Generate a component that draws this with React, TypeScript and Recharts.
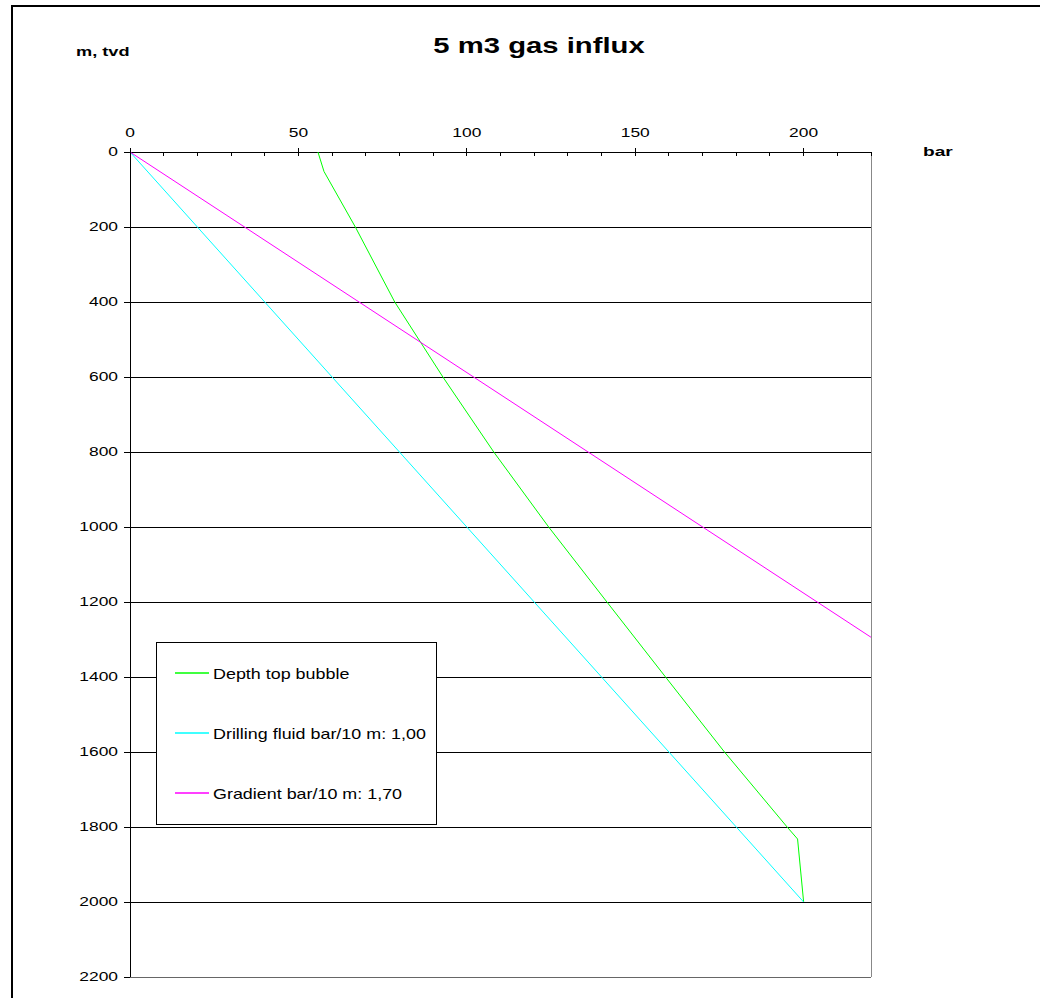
import { CartesianGrid, Legend, ReferenceLine, Scatter, ScatterChart, XAxis, YAxis } from 'recharts';

// pressure (bar) against true vertical depth (m)
const bubbleBar = [55.8, 57.6, 66.9, 78.6, 92.9, 108.0, 124.3, 141.6, 159.0, 176.5, 195.1, 198.2, 200];
const bubbleDepth = [0, 52, 200, 400, 600, 800, 1000, 1200, 1400, 1600, 1800, 1832, 2000];
const fluidBar = [0, 200];
const fluidDepth = [0, 2000];
const gradientBar = [0, 220];
const gradientDepth = [0, 1294];

const barTicks = [0, 10, 20, 30, 40, 50, 60, 70, 80, 90, 100, 110, 120, 130, 140, 150, 160, 170, 180, 190, 200, 210, 220];
const barLabels = [0, 50, 100, 150, 200];
const depthTicks = [0, 200, 400, 600, 800, 1000, 1200, 1400, 1600, 1800, 2000, 2200];

const FONT = '"Liberation Sans", Arial, sans-serif';
const STRETCH = 1.45;

const toPoints = (bars: number[], depths: number[]) =>
  bars.map((b, i) => ({ bar: b, depth: depths[i] }));

const series = [
  { name: 'Depth top bubble', color: '#00ff00', data: toPoints(bubbleBar, bubbleDepth) },
  { name: 'Drilling fluid bar/10 m:  1,00', color: '#00ffff', data: toPoints(fluidBar, fluidDepth) },
  { name: 'Gradient bar/10 m:  1,70', color: '#ff00ff', data: toPoints(gradientBar, gradientDepth) },
];

const noShape = () => <g />;

function BarTick(props: any) {
  const { x, y, payload } = props;
  const major = barLabels.includes(payload.value);
  return (
    <g>
      <line x1={x} x2={x} y1={major ? y - 4 : y} y2={y + 4} stroke="#000" shapeRendering="crispEdges" />
      {major && (
        <text
          transform={`translate(${x},${y - 15}) scale(${STRETCH},1)`}
          textAnchor="middle"
          fontSize={12}
          fontFamily={FONT}
          fill="#000"
        >
          {payload.value}
        </text>
      )}
    </g>
  );
}

function DepthTick(props: any) {
  const { x, y, payload } = props;
  return (
    <text
      transform={`translate(${x},${y + 4}) scale(${STRETCH},1)`}
      textAnchor="end"
      fontSize={12}
      fontFamily={FONT}
      fill="#000"
    >
      {payload.value}
    </text>
  );
}

function LegendBox() {
  return (
    <svg width={281} height={183} style={{ display: 'block' }}>
      <rect x={0.5} y={0.5} width={280} height={182} fill="#fff" stroke="#000" />
      {series.map((s, i) => (
        <g key={s.name}>
          <line x1={19} x2={53} y1={31 + i * 60} y2={31 + i * 60} stroke={s.color} strokeWidth={1.3} />
          <text
            transform={`translate(57,${36.5 + i * 60}) scale(1.28,1)`}
            fontSize={14}
            fontFamily={FONT}
            fill="#000"
          >
            {s.name}
          </text>
        </g>
      ))}
    </svg>
  );
}

export default function App() {
  return (
    <div style={{ position: 'relative', width: 1040, height: 998, overflow: 'hidden', background: '#fff' }}>
      <style>{'body{margin:0}'}</style>
      <div
        style={{
          position: 'absolute',
          left: 11,
          top: 5,
          width: 1100,
          height: 1100,
          border: '2px solid #000',
        }}
      />
      <div style={{ position: 'absolute', left: 0, top: 0 }}>
        <ScatterChart width={1040} height={998} margin={{ top: 122, right: 169, bottom: 21, left: 70 }}>
          <CartesianGrid vertical={false} stroke="#000" shapeRendering="crispEdges" />
          <XAxis
            type="number"
            dataKey="bar"
            orientation="top"
            domain={[0, 220]}
            ticks={barTicks}
            interval={0}
            height={30}
            tickSize={0}
            tickMargin={0}
            tickLine={false}
            tick={<BarTick />}
            axisLine={{ stroke: '#000', shapeRendering: 'crispEdges' }}
          />
          <YAxis
            type="number"
            dataKey="depth"
            reversed
            domain={[0, 2200]}
            ticks={depthTicks}
            interval={0}
            width={60}
            tickSize={6}
            tickMargin={6}
            tickLine={{ stroke: '#000', shapeRendering: 'crispEdges' }}
            tick={<DepthTick />}
            axisLine={{ stroke: '#000', shapeRendering: 'crispEdges' }}
          />
          <ReferenceLine x={220} stroke="#888" shapeRendering="crispEdges" />
          <ReferenceLine y={2200} stroke="#666" shapeRendering="crispEdges" />
          {series.map((s) => (
            <Scatter
              key={s.name}
              name={s.name}
              data={s.data}
              fill={s.color}
              stroke={s.color}
              line={{ stroke: s.color, strokeWidth: 1 }}
              lineType="joint"
              shape={noShape}
              isAnimationActive={false}
            />
          ))}
          <Legend
            layout="horizontal"
            verticalAlign="middle"
            align="center"
            content={() => <LegendBox />}
            wrapperStyle={{ position: 'absolute', left: 156, top: 642, width: 281, height: 183 }}
          />
        </ScatterChart>
      </div>
      <svg
        width={1040}
        height={998}
        style={{ position: 'absolute', left: 0, top: 0, pointerEvents: 'none' }}
      >
        <text
          transform={`translate(539,53) scale(1.33,1)`}
          textAnchor="middle"
          fontSize={22}
          fontWeight="bold"
          fontFamily={FONT}
          fill="#000"
        >
          5 m3 gas influx
        </text>
        <text
          transform={`translate(76,56) scale(1.4,1)`}
          fontSize={13}
          fontWeight="bold"
          fontFamily={FONT}
          fill="#000"
        >
          m, tvd
        </text>
        <text
          transform={`translate(923,155.5) scale(1.42,1)`}
          fontSize={13.5}
          fontWeight="bold"
          fontFamily={FONT}
          fill="#000"
        >
          bar
        </text>
      </svg>
    </div>
  );
}
